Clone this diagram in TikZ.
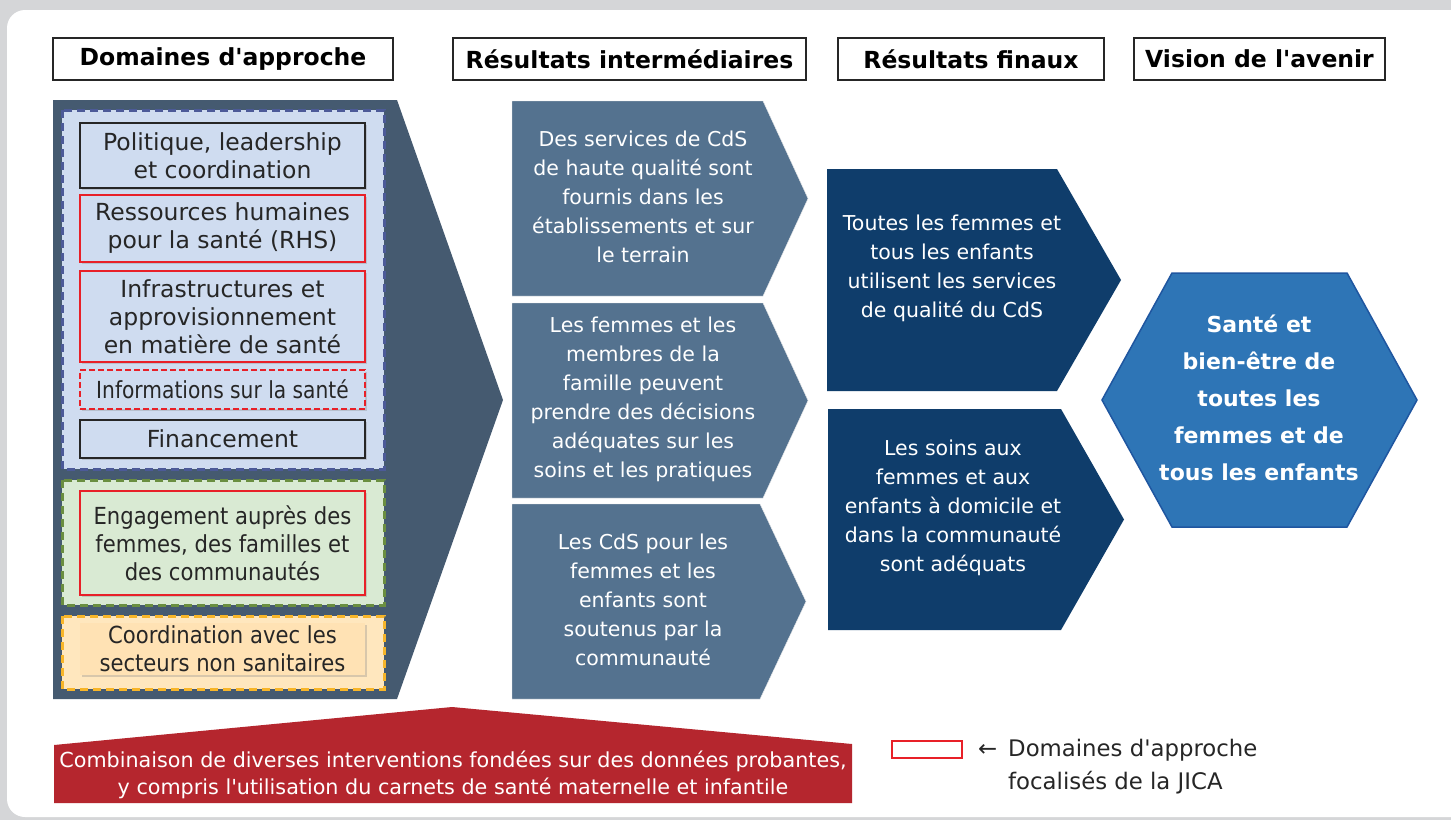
\documentclass[tikz,border=0pt]{standalone}
\usepackage{fontspec}
\setmainfont{DejaVu Sans}
\newfontfamily\condfont[FakeStretch=0.9]{DejaVu Sans}
\newfontfamily\infofont[FakeStretch=0.86]{DejaVu Sans}
\usetikzlibrary{shadows}

\definecolor{bggray}{RGB}{213,214,216}
\definecolor{panelslate}{RGB}{69,90,112}
\definecolor{domblue}{RGB}{207,220,240}
\definecolor{dashblue}{RGB}{76,90,152}
\definecolor{domgreen}{RGB}{217,234,211}
\definecolor{dashgreen}{RGB}{106,142,64}
\definecolor{domorange}{RGB}{255,231,190}
\definecolor{boxorange}{RGB}{255,226,180}
\definecolor{dashorange}{RGB}{247,181,41}
\definecolor{jicared}{RGB}{232,32,40}
\definecolor{interslate}{RGB}{84,114,143}
\definecolor{finalnavy}{RGB}{15,61,107}
\definecolor{visionblue}{RGB}{46,117,182}
\definecolor{visionedge}{RGB}{31,86,160}
\definecolor{combired}{RGB}{181,38,46}

\newcommand{\apos}{\textquotesingle}

\tikzset{
  headbox/.style={draw=black!85, line width=1.5pt, fill=white, inner sep=0pt,
    font=\bfseries\fontsize{23.5}{28}\selectfont},
  groupframe/.style={line width=3pt, dash pattern=on 8pt off 5pt},
  domainbox/.style={fill=domblue, line width=2pt, inner sep=0pt, align=center,
    text=black!85, minimum width=285pt, font=\fontsize{23.5}{28}\selectfont,
    drop shadow={shadow xshift=2pt, shadow yshift=-2pt, opacity=0.3}},
  focusbox/.style={domainbox, draw=jicared},
  plainbox/.style={domainbox, draw=black!85},
  chevtext/.style={text=white, align=center, inner sep=0pt,
    font=\fontsize{20.5}{29}\selectfont}
}

\begin{document}
\begin{tikzpicture}[x=1pt, y=-1pt]
\useasboundingbox (0,0) rectangle (1451,820);
\fill[bggray] (0,0) rectangle (1451,820);
\fill[white, rounded corners=18pt] (7,10) rectangle (1470,817);

% column headers
\node[headbox, minimum width=340pt, minimum height=42pt] (hdomaines) at (223,59) {Domaines d\apos approche};
\node[headbox, minimum width=353pt, minimum height=42pt] (hinter) at (629.5,59) {Résultats intermédiaires};
\node[headbox, minimum width=266pt, minimum height=42pt] (hfinal) at (971,59) {Résultats finaux};
\node[headbox, minimum width=251pt, minimum height=42pt] (hvision) at (1259.5,59) {Vision de l\apos avenir};

% domaines d'approche
\fill[panelslate] (53,100) -- (397,100) -- (503,400) -- (397,699) -- (53,699) -- cycle;
\draw[groupframe, draw=dashblue, fill=domblue] (62,110) rectangle (384,469);
\draw[groupframe, draw=dashgreen, fill=domgreen] (62,480) rectangle (384,605);
\draw[groupframe, draw=dashorange, fill=domorange] (62,616) rectangle (384,689);

\node[plainbox, minimum height=65pt] (politique) at (222.5,155.5) {Politique, leadership\\et coordination};
\node[focusbox, minimum height=67pt] (rhs) at (222.5,228.5) {Ressources humaines\\pour la santé (RHS)};
\node[focusbox, minimum height=91pt] (infra) at (222.5,316.5) {Infrastructures et\\approvisionnement\\en matière de santé};
\node[focusbox, dash pattern=on 6pt off 3pt, minimum height=39pt] (info) at (222.5,389.5) {\infofont Informations sur la santé};
\node[plainbox, minimum height=38pt] (finance) at (222.5,439) {Financement};
\node[focusbox, fill=domgreen, minimum height=104pt] (engage) at (222.5,543) {\condfont Engagement auprès des\\\condfont femmes, des familles et\\\condfont des communautés};
\node[domainbox, fill=boxorange, minimum height=52pt] (coord) at (222.5,649) {\condfont Coordination avec les\\\condfont secteurs non sanitaires};

% resultats intermediaires
\filldraw[interslate, draw=white!85!gray] (512,101) -- (763,101) -- (808,198.5) -- (763,296) -- (512,296) -- cycle;
\filldraw[interslate, draw=white!85!gray] (512,303) -- (763,303) -- (808,400.5) -- (763,498) -- (512,498) -- cycle;
\filldraw[interslate, draw=white!85!gray] (512,504) -- (760,504) -- (806,601.5) -- (760,699) -- (512,699) -- cycle;
\node[chevtext] (inter1) at (643,197) {Des services de CdS\\de haute qualité sont\\fournis dans les\\établissements et sur\\le terrain};
\node[chevtext] (inter2) at (643,399) {Les femmes et les\\membres de la\\famille peuvent\\prendre des décisions\\adéquates sur les\\soins et les pratiques};
\node[chevtext] (inter3) at (643,600) {Les CdS pour les\\femmes et les\\enfants sont\\soutenus par la\\communauté};

% resultats finaux
\fill[finalnavy] (827,169) -- (1057,169) -- (1121,280) -- (1057,391) -- (827,391) -- cycle;
\fill[finalnavy] (828,409) -- (1061,409) -- (1124,519.5) -- (1061,630) -- (828,630) -- cycle;
\node[chevtext] (final1) at (952,268) {Toutes les femmes et\\tous les enfants\\utilisent les services\\de qualité du CdS};
\node[chevtext] (final2) at (953,508) {Les soins aux\\femmes et aux\\enfants à domicile et\\dans la communauté\\sont adéquats};

% vision
\filldraw[fill=visionblue, draw=visionedge, line width=1.5pt] (1102,400) -- (1172,273) -- (1347,273) -- (1417,400) -- (1347,527) -- (1172,527) -- cycle;
\node[text=white, align=center, inner sep=0pt, font=\bfseries\fontsize{22}{37}\selectfont] (vision) at (1259,398)
  {Santé et\\bien-être de\\toutes les\\femmes et de\\tous les enfants};

% interventions
\fill[combired] (54,803) -- (54,745) -- (452,707) -- (852,744) -- (852,803) -- cycle;
\node[text=white, align=center, inner sep=0pt, font=\fontsize{20.7}{27}\selectfont] (combi) at (453,775)
  {Combinaison de diverses interventions fondées sur des données probantes,\\y compris l\apos utilisation du carnets de santé maternelle et infantile};

% legend
\node[draw=jicared, line width=2pt, minimum width=70pt, minimum height=17pt, inner sep=0pt] (legendbox) at (927,749.5) {};
\node[anchor=west, inner sep=0pt, text=black!85, font=\fontsize{22.8}{33}\selectfont] (legendarrow) at (978,750) {←};
\node[anchor=west, align=left, inner sep=0pt, text=black!85, font=\fontsize{22.8}{33}\selectfont] (legendtext) at (1008,767)
  {Domaines d\apos approche\\focalisés de la JICA};
\end{tikzpicture}
\end{document}
